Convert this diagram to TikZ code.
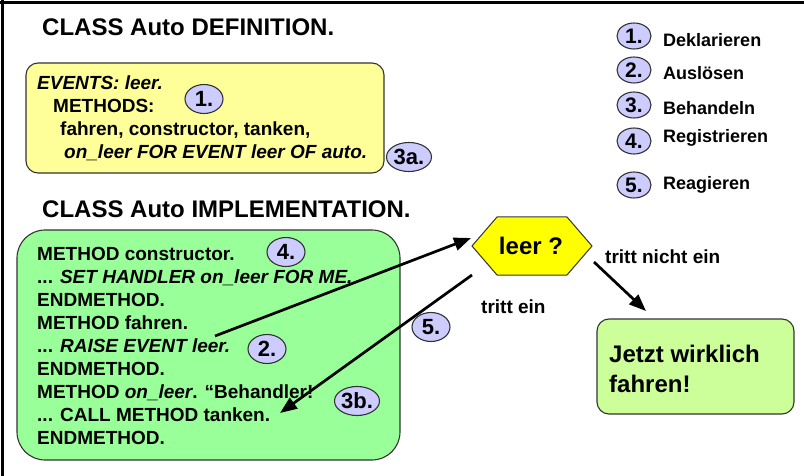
\documentclass[tikz,border=0pt]{standalone}
\usepackage{fontspec}
\setmainfont{Liberation Sans}
\usetikzlibrary{arrows.meta,shapes.geometric}
\definecolor{boxyellow}{HTML}{FFFF99}
\definecolor{boxgreen}{HTML}{99FF99}
\definecolor{resgreen}{HTML}{CCFF99}
\definecolor{badgeblue}{HTML}{CCCCFF}
\definecolor{hexyellow}{HTML}{FFFF00}
\definecolor{edgegray}{HTML}{333333}
\tikzset{
  frameline/.style={line width=2.5pt, black},
  head/.style={font=\fontsize{24}{28}\selectfont\bfseries, anchor=base west, inner sep=0pt},
  body/.style={font=\fontsize{19}{23}\selectfont\bfseries, anchor=base west, inner sep=0pt},
  legtext/.style={font=\fontsize{18}{22}\selectfont\bfseries, anchor=base west, inner sep=0pt},
  bigtext/.style={font=\fontsize{24}{28}\selectfont\bfseries, anchor=base west, inner sep=0pt},
  badge/.style={ellipse, draw=edgegray, fill=badgeblue, line width=1.1pt, inner sep=0pt,
    minimum width=38pt, minimum height=29pt, font=\fontsize{22}{22}\selectfont\bfseries},
  widebadge/.style={badge, minimum width=45pt},
  legbadge/.style={badge, minimum width=34pt, minimum height=26pt, font=\fontsize{21}{21}\selectfont\bfseries},
  roundbox/.style={draw=edgegray, line width=1.1pt},
  flow/.style={line width=2.7pt, black, -{Triangle[length=17pt,width=13pt]}},
}
\begin{document}
\begin{tikzpicture}[x=1pt, y=-1pt]
\useasboundingbox (0,0) rectangle (804,476);
% frame
\draw[frameline] (0,2.5) -- (804,2.5);
\draw[frameline] (2.5,0) -- (2.5,476);

% headings
\node[head] (hdef) at (42,36) {CLASS Auto DEFINITION.};
\node[head] (himpl) at (42,218) {CLASS Auto IMPLEMENTATION.};

% definition box
\draw[roundbox, fill=boxyellow, rounded corners=12pt] (26,63) rectangle (384,173);
\node[body] (d1) at (37,90) {\itshape EVENTS: leer.};
\node[body] (d2) at (53,113) {METHODS:};
\node[body] (d3) at (60,136) {fahren, constructor, tanken,};
\node[body] (d4) at (64,159) {\itshape on\_leer FOR EVENT leer OF auto.};
\node[badge] (b1) at (204,99) {1.};
\node[widebadge] (b3a) at (409,157) {3a.};

% implementation box
\draw[roundbox, fill=boxgreen, rounded corners=28pt] (17,230) rectangle (400,460);
\node[body] (i1) at (37,260.5) {METHOD constructor.};
\node[body] (i2) at (37,283.5) {... \textit{SET HANDLER on\_leer FOR ME.}};
\node[body] (i3) at (37,306.5) {ENDMETHOD.};
\node[body] (i4) at (37,329.5) {METHOD fahren.};
\node[body] (i5) at (37,352.5) {... \textit{RAISE EVENT leer.}};
\node[body] (i6) at (37,375.5) {ENDMETHOD.};
\node[body] (i7) at (37,398.5) {METHOD \textit{on\_leer}. “Behandler!};
\node[body] (i8) at (37,421.5) {... CALL METHOD tanken.};
\node[body] (i9) at (37,444.5) {ENDMETHOD.};
\node[badge] (b4) at (286,252) {4.};
\node[badge] (b2) at (267,349) {2.};
\node[widebadge] (b3b) at (357,401) {3b.};

% decision hexagon
\draw[draw=edgegray, line width=1pt, fill=hexyellow]
  (472,246) -- (497,217) -- (567,217) -- (592,246) -- (567,275) -- (497,275) -- cycle;
\node[font=\fontsize{24}{28}\selectfont\bfseries, inner sep=0pt] (hex) at (531,246) {leer ?};
\node[body] (tne) at (605,263) {tritt nicht ein};
\node[body] (te) at (481,313) {tritt ein};
\node[badge] (b5) at (431,327) {5.};

% result box
\draw[roundbox, fill=resgreen, rounded corners=12pt] (597,319) rectangle (794,414);
\node[bigtext] (r1) at (609,362) {Jetzt wirklich};
\node[bigtext] (r2) at (609,392) {fahren!};

% legend
\node[legbadge] (l1) at (634,36) {1.};
\node[legbadge] (l2) at (634,70) {2.};
\node[legbadge] (l3) at (634,105) {3.};
\node[legbadge] (l4) at (634,141) {4.};
\node[legbadge] (l5) at (634,185) {5.};
\node[legtext] (t1) at (663,46.5) {Deklarieren};
\node[legtext] (t2) at (663,79.5) {Auslösen};
\node[legtext] (t3) at (663,114.5) {Behandeln};
\node[legtext] (t4) at (663,143) {Registrieren};
\node[legtext] (t5) at (663,189.5) {Reagieren};

% connectors
\coordinate (raise) at (215,336);
\coordinate (hexin) at (471,238);
\coordinate (hexout) at (472,275);
\coordinate (handler) at (280,413);
\coordinate (hexright) at (594,262);
\coordinate (resin) at (646,311);
\draw[flow] (raise) -- (hexin);
\draw[flow] (hexout) -- (handler);
\draw[flow] (hexright) -- (resin);
\end{tikzpicture}
\end{document}
